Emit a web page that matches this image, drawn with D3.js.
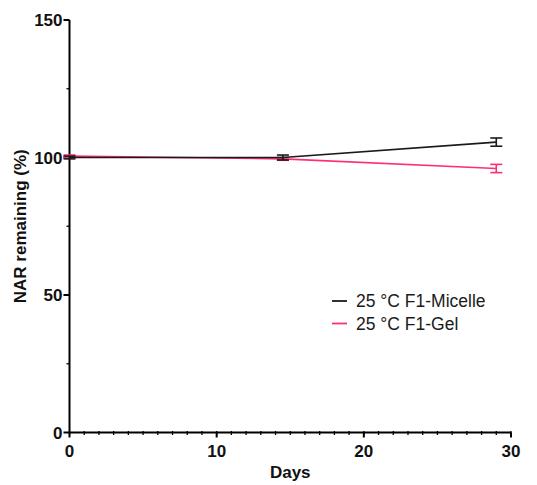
<!DOCTYPE html>
<html>
<head>
<meta charset="utf-8">
<script src="https://cdn.jsdelivr.net/npm/d3@7/dist/d3.min.js"></script>
<style>
  html, body { margin: 0; padding: 0; background: #fff; }
  svg { display: block; font-family: "Liberation Sans", Arial, sans-serif; }
</style>
</head>
<body>
<svg id="chart" width="537" height="485"></svg>
<script>
// Sampling days and NAR remaining (%) for each formulation
const days = [0, 14.5, 29];
const micelleMean = [100, 100, 105.6];
const micelleErr = [0.5, 0.9, 1.5];
const gelMean = [100.5, 99.5, 96.0];
const gelErr = [0.4, 0.5, 1.5];

const seriesNames = ["25 \u00B0C F1-Micelle", "25 \u00B0C F1-Gel"];
const seriesColors = ["#1a1a1a", "#ff2d78"];

const xTicks = [0, 10, 20, 30];
const yTicks = [0, 50, 100, 150];

const svg = d3.select("#chart");

const x = d3.scaleLinear().domain([0, 30]).range([69.5, 511]);
const y = d3.scaleLinear().domain([0, 150]).range([432.5, 20]);

// Axes
const xAxis = svg.append("g").attr("transform", `translate(0,${y(0)})`);
xAxis.append("line")
  .attr("x1", x(0)).attr("x2", x(30))
  .attr("stroke", "#000").attr("stroke-width", 2);
xAxis.selectAll("line.minor")
  .data(d3.range(0, 31, 1))
  .join("line")
  .attr("class", "minor")
  .attr("x1", d => x(d)).attr("x2", d => x(d))
  .attr("y1", -1.5).attr("y2", 2.5)
  .attr("stroke", "#000").attr("stroke-width", 1.3);
xAxis.selectAll("line.major")
  .data(xTicks)
  .join("line")
  .attr("class", "major")
  .attr("x1", d => x(d)).attr("x2", d => x(d))
  .attr("y1", 0).attr("y2", 5)
  .attr("stroke", "#000").attr("stroke-width", 2);
xAxis.selectAll("text")
  .data(xTicks)
  .join("text")
  .attr("x", d => x(d)).attr("y", 24)
  .attr("text-anchor", "middle")
  .attr("font-size", "17px").attr("font-weight", "bold")
  .attr("fill", "#111")
  .text(d => d);

const yAxis = svg.append("g").attr("transform", `translate(${x(0)},0)`);
yAxis.append("line")
  .attr("y1", y(0)).attr("y2", y(150))
  .attr("stroke", "#000").attr("stroke-width", 2);
yAxis.selectAll("line.minor")
  .data([25, 75, 125])
  .join("line")
  .attr("class", "minor")
  .attr("x1", -3).attr("x2", 0)
  .attr("y1", d => y(d)).attr("y2", d => y(d))
  .attr("stroke", "#000").attr("stroke-width", 1.3);
yAxis.selectAll("line.major")
  .data(yTicks)
  .join("line")
  .attr("class", "major")
  .attr("x1", -6).attr("x2", 0)
  .attr("y1", d => y(d)).attr("y2", d => y(d))
  .attr("stroke", "#000").attr("stroke-width", 2);
yAxis.selectAll("text")
  .data(yTicks)
  .join("text")
  .attr("x", -7).attr("y", d => y(d))
  .attr("dy", "0.36em")
  .attr("text-anchor", "end")
  .attr("font-size", "17px").attr("font-weight", "bold")
  .attr("fill", "#111")
  .text(d => d);

// Axis titles
svg.append("text")
  .attr("x", (x(0) + x(30)) / 2).attr("y", 478)
  .attr("text-anchor", "middle")
  .attr("font-size", "17px").attr("font-weight", "bold")
  .attr("fill", "#111")
  .text("Days");
svg.append("text")
  .attr("transform", `translate(26,${(y(0) + y(150)) / 2}) rotate(-90)`)
  .attr("text-anchor", "middle")
  .attr("font-size", "17px").attr("font-weight", "bold")
  .attr("fill", "#111")
  .text("NAR remaining (%)");

// Series: mean line with error bars
const series = [
  { name: seriesNames[0], color: seriesColors[0], mean: micelleMean, err: micelleErr },
  { name: seriesNames[1], color: seriesColors[1], mean: gelMean, err: gelErr }
];
series.forEach(s => {
  s.pts = days.map((d, i) => ({ day: d, v: s.mean[i], e: s.err[i] }));
});

const line = d3.line().x(d => x(d.day)).y(d => y(d.v));
const cap = 6;

// Gel drawn first, micelle on top
series.slice().reverse().forEach(s => {
  const g = svg.append("g");
  g.append("path")
    .datum(s.pts)
    .attr("d", line)
    .attr("fill", "none")
    .attr("stroke", s.color)
    .attr("stroke-width", 1.6);
  const eb = g.selectAll("g").data(s.pts).join("g");
  eb.append("line")
    .attr("x1", d => x(d.day)).attr("x2", d => x(d.day))
    .attr("y1", d => y(d.v + d.e)).attr("y2", d => y(d.v - d.e))
    .attr("stroke", s.color).attr("stroke-width", 1.6);
  eb.append("line")
    .attr("x1", d => x(d.day) - cap).attr("x2", d => x(d.day) + cap)
    .attr("y1", d => y(d.v + d.e)).attr("y2", d => y(d.v + d.e))
    .attr("stroke", s.color).attr("stroke-width", 1.6);
  eb.append("line")
    .attr("x1", d => x(d.day) - cap).attr("x2", d => x(d.day) + cap)
    .attr("y1", d => y(d.v - d.e)).attr("y2", d => y(d.v - d.e))
    .attr("stroke", s.color).attr("stroke-width", 1.6);
});

// Legend
const legend = svg.append("g").attr("transform", "translate(332,301)");
const item = legend.selectAll("g").data(series).join("g")
  .attr("transform", (d, i) => `translate(0,${i * 22.5})`);
item.append("line")
  .attr("x1", 0).attr("x2", 15)
  .attr("stroke", d => d.color).attr("stroke-width", 1.8);
item.append("text")
  .attr("x", 24).attr("dy", "0.35em")
  .attr("font-size", "17.5px")
  .attr("fill", "#1a1a1a")
  .text(d => d.name);
</script>
</body>
</html>
